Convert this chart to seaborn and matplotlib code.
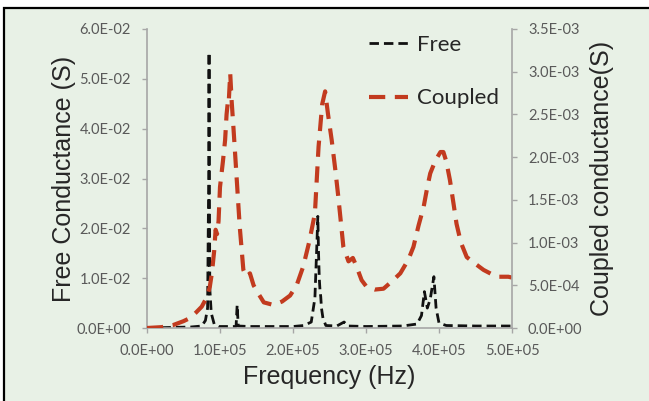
import matplotlib
matplotlib.use('Agg')
import matplotlib.pyplot as plt
import seaborn as sns
from matplotlib.patches import Rectangle
from matplotlib.ticker import FuncFormatter, MultipleLocator

# Free resonator conductance (S) vs frequency (Hz)
free_freq = [0.00e5, 0.30e5, 0.60e5, 0.75e5, 0.80e5, 0.83e5, 0.845e5, 0.85e5, 0.855e5,
             0.86e5, 0.88e5, 0.92e5, 0.98e5, 1.10e5, 1.22e5, 1.235e5, 1.25e5, 1.40e5,
             1.70e5, 2.00e5, 2.15e5, 2.25e5, 2.30e5, 2.33e5, 2.34e5, 2.35e5, 2.36e5,
             2.37e5, 2.38e5, 2.39e5, 2.41e5, 2.45e5, 2.60e5, 2.70e5, 2.75e5, 3.00e5,
             3.50e5, 3.70e5, 3.76e5, 3.80e5, 3.84e5, 3.88e5, 3.93e5, 3.96e5, 4.00e5,
             4.10e5, 4.50e5, 5.00e5]
free_g = [0.0000, 0.0001, 0.0002, 0.0004, 0.0015, 0.0040, 0.0300, 0.0553, 0.0300,
          0.0080, 0.0030, 0.0008, 0.0003, 0.0003, 0.0003, 0.0046, 0.0004, 0.0003,
          0.0003, 0.0003, 0.0005, 0.0012, 0.0060, 0.0180, 0.0224, 0.0150, 0.0100,
          0.0075, 0.0063, 0.0040, 0.0020, 0.0005, 0.0004, 0.0012, 0.0004, 0.0003,
          0.0004, 0.0008, 0.0025, 0.0073, 0.0040, 0.0058, 0.0103, 0.0040, 0.0010,
          0.0005, 0.0004, 0.0004]

# Coupled resonator conductance (S) vs frequency (Hz)
coupled_freq = [0.00e5, 0.20e5, 0.36e5, 0.50e5, 0.59e5, 0.67e5, 0.75e5, 0.82e5, 0.86e5,
                0.89e5, 0.92e5, 0.94e5, 0.96e5, 0.98e5, 1.00e5, 1.04e5, 1.07e5, 1.09e5,
                1.11e5, 1.12e5, 1.14e5, 1.16e5, 1.18e5, 1.21e5, 1.23e5, 1.27e5, 1.32e5,
                1.36e5, 1.41e5, 1.46e5, 1.52e5, 1.60e5, 1.73e5, 1.85e5, 1.96e5, 2.05e5,
                2.14e5, 2.22e5, 2.30e5, 2.35e5, 2.40e5, 2.44e5, 2.48e5, 2.53e5, 2.58e5,
                2.62e5, 2.69e5, 2.76e5, 2.82e5, 2.87e5, 2.94e5, 3.01e5, 3.12e5, 3.24e5,
                3.36e5, 3.47e5, 3.58e5, 3.65e5, 3.72e5, 3.79e5, 3.84e5, 3.88e5, 3.95e5,
                4.02e5, 4.06e5, 4.10e5, 4.15e5, 4.20e5, 4.24e5, 4.30e5, 4.38e5, 4.50e5,
                4.61e5, 4.79e5, 4.95e5, 5.00e5]
coupled_g = [0.0, 0.00001, 0.000035, 0.00008, 0.000117, 0.00018, 0.00025, 0.00036, 0.00048,
             0.00065, 0.00090, 0.00115, 0.00110, 0.00125, 0.00165, 0.00195, 0.00220, 0.00250,
             0.00267, 0.00265, 0.00298, 0.00265, 0.00240, 0.00200, 0.00173, 0.00119, 0.00068,
             0.00060, 0.00064, 0.00050, 0.00041, 0.00030, 0.00027, 0.00031, 0.00038, 0.00050,
             0.00072, 0.00100, 0.00134, 0.00212, 0.00262, 0.00277, 0.00250, 0.00220, 0.00185,
             0.00154, 0.00095, 0.00078, 0.00082, 0.00072, 0.00056, 0.00048, 0.00045, 0.00046,
             0.00055, 0.00064, 0.00080, 0.00095, 0.00120, 0.00142, 0.00165, 0.00181, 0.00196,
             0.00206, 0.00206, 0.00195, 0.00173, 0.00145, 0.00122, 0.00100, 0.00083, 0.00075,
             0.00068, 0.00060, 0.00060, 0.00059]

series_labels = ['Free', 'Coupled']

bg = '#E8F1E6'
spine_gray = '#A6A6A6'
tick_gray = '#595959'
red = '#C23B1F'

label_font = 'Liberation Sans'
tick_font = 'Lato'


def sci(v, pos):
    return f'{v:.1E}'


fig = plt.figure(figsize=(6.49, 4.01), dpi=100)
fig.patch.set_facecolor('white')
fig.add_artist(Rectangle((4 / 649, -0.05), 1.2, (401 - 8) / 401 + 0.05,
                         transform=fig.transFigure, facecolor=bg,
                         edgecolor='black', lw=1.6, zorder=-10))

ax = fig.add_axes([147 / 649, 73 / 401, 365 / 649, 299 / 401])
ax2 = ax.twinx()
for a in (ax, ax2):
    a.set_facecolor('none')

sns.lineplot(x=free_freq, y=free_g, ax=ax, color='#111111', lw=2.0,
             linestyle=(0, (3.4, 1.8)), sort=False, estimator=None)
sns.lineplot(x=coupled_freq, y=coupled_g, ax=ax2, color=red, lw=3.0,
             linestyle=(0, (3.9, 2.3)), sort=False, estimator=None)

ax.set_xlim(0, 5e5)
ax.set_ylim(0, 0.06)
ax2.set_ylim(0, 0.0035)
ax.xaxis.set_major_locator(MultipleLocator(1e5))
ax.yaxis.set_major_locator(MultipleLocator(0.01))
ax2.yaxis.set_major_locator(MultipleLocator(0.0005))
for axis in (ax.xaxis, ax.yaxis, ax2.yaxis):
    axis.set_major_formatter(FuncFormatter(sci))

for s in ('top', 'right'):
    ax.spines[s].set_visible(False)
for s in ('top', 'left', 'bottom'):
    ax2.spines[s].set_visible(False)
ax.spines['left'].set_color(spine_gray)
ax.spines['bottom'].set_color(spine_gray)
ax2.spines['right'].set_color(spine_gray)
for sp in (ax.spines['left'], ax.spines['bottom'], ax2.spines['right']):
    sp.set_linewidth(1.2)

ax.tick_params(axis='y', direction='out', length=3.5, width=1, color=spine_gray,
               labelcolor=tick_gray, labelsize=10.5, pad=8)
ax.tick_params(axis='x', direction='out', length=3.5, width=1, color=spine_gray,
               labelcolor=tick_gray, labelsize=10.5, pad=8)
ax2.tick_params(axis='y', direction='out', length=3.5, width=1, color=spine_gray,
                labelcolor=tick_gray, labelsize=10.5, pad=8)
for lab in ax.get_xticklabels() + ax.get_yticklabels() + ax2.get_yticklabels():
    lab.set_fontfamily(tick_font)

ax.set_xlabel('Frequency (Hz)', fontsize=18, family=label_font, color='#262626')
ax.set_ylabel('Free Conductance (S)', fontsize=18, family=label_font, color='#262626')
ax2.set_ylabel('Coupled conductance(S)', fontsize=18, family=label_font, color='#262626')
ax.xaxis.set_label_coords(0.5, -0.125)
ax.yaxis.set_label_coords(-0.195, 0.5)
ax2.yaxis.set_label_coords(1.215, 0.5)

handles = [ax.lines[0], ax2.lines[0]]
ax.legend(handles, series_labels, loc='upper left', frameon=False,
          bbox_to_anchor=(369 / 649, (401 - 35) / 401), bbox_transform=fig.transFigure,
          borderaxespad=0, borderpad=0, handlelength=1.75, handletextpad=0.4,
          labelspacing=1.5, prop={'family': tick_font, 'size': 16},
          labelcolor='#262626')

fig.savefig('out.png', dpi=100)
